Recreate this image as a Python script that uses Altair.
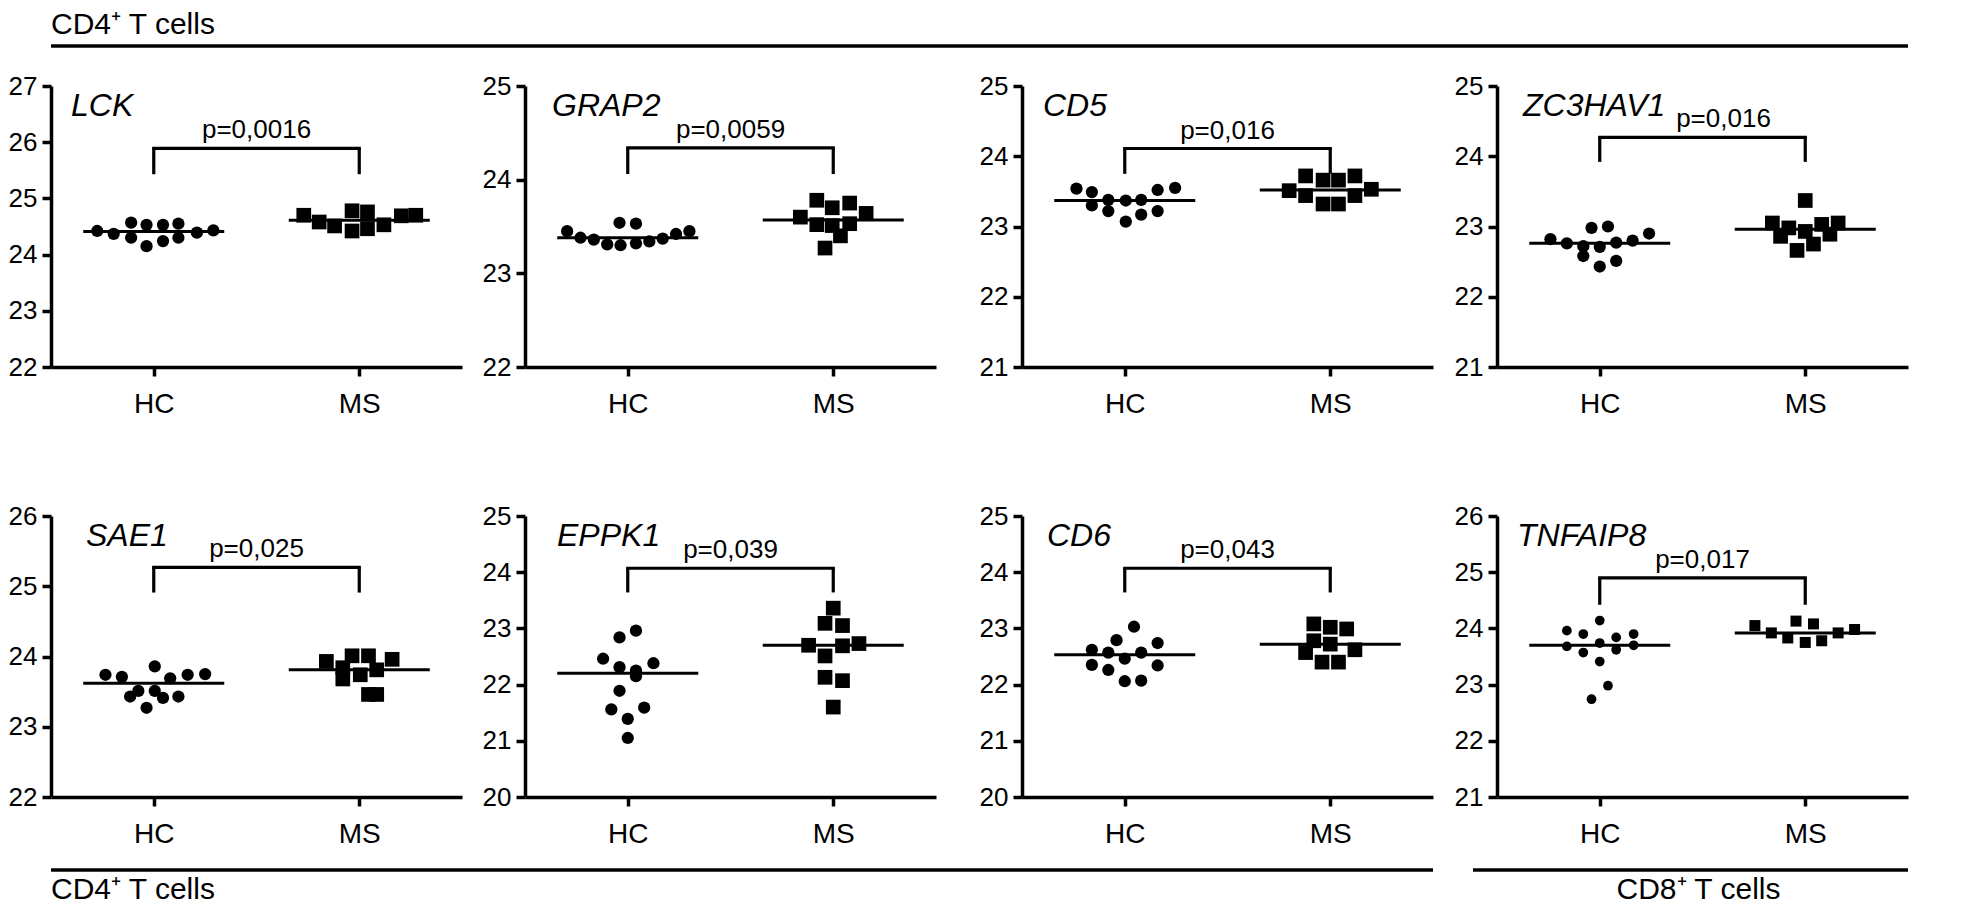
import altair as alt
import pandas as pd

FONT = "Liberation Sans"

GROUPS = ["HC", "MS"]
GROUP_POS = [1, 3]
GENES = ["LCK", "GRAP2", "CD5", "ZC3HAV1", "SAE1", "EPPK1", "CD6", "TNFAIP8"]
P_LABELS = ["p=0,0016", "p=0,0059", "p=0,016", "p=0,016",
            "p=0,025", "p=0,039", "p=0,043", "p=0,017"]
SECTION_LABELS = ["CD4\u207a T cells", "CD4\u207a T cells", "CD8\u207a T cells"]
Y_MIN = [22, 22, 21, 21, 22, 20, 20, 21]
Y_MAX = [27, 25, 25, 25, 26, 25, 25, 26]
HC_MEAN = [24.41, 23.38, 23.37, 22.76, 23.62, 22.20, 22.53, 23.70]
MS_MEAN = [24.61, 23.57, 23.52, 22.96, 23.81, 22.70, 22.72, 23.92]
BRACKET_TOP = [25.89, 24.34, 24.11, 24.27, 25.27, 24.07, 24.07, 24.90]
BRACKET_LEG = [25.43, 24.06, 23.75, 23.92, 24.91, 23.64, 23.64, 24.42]

# horizontal scatter (in x-scale units around the group) and values
LCK_HC_DX = [-0.55, -0.39, -0.22, -0.22, -0.07, -0.07, 0.09, 0.09, 0.24, 0.24, 0.42, 0.58]
LCK_HC_Y = [24.42, 24.37, 24.57, 24.30, 24.53, 24.15, 24.53, 24.24, 24.55, 24.30, 24.39, 24.43]
LCK_MS_DX = [-0.54, -0.39, -0.24, -0.07, -0.07, 0.08, 0.08, 0.24, 0.41, 0.55]
LCK_MS_Y = [24.70, 24.58, 24.51, 24.78, 24.42, 24.76, 24.46, 24.53, 24.69, 24.70]

GRAP2_HC_DX = [-0.59, -0.46, -0.33, -0.20, -0.08, -0.07, 0.08, 0.08, 0.21, 0.34, 0.47, 0.60]
GRAP2_HC_Y = [23.45, 23.38, 23.36, 23.31, 23.54, 23.30, 23.53, 23.32, 23.34, 23.37, 23.42, 23.45]
GRAP2_MS_DX = [-0.32, -0.16, -0.16, -0.01, -0.01, 0.07, 0.16, 0.16, -0.08, 0.32]
GRAP2_MS_Y = [23.60, 23.78, 23.52, 23.70, 23.51, 23.40, 23.75, 23.53, 23.27, 23.64]

CD5_HC_DX = [-0.47, -0.32, -0.32, -0.16, -0.16, 0.01, 0.01, 0.16, 0.16, 0.32, 0.32, 0.49]
CD5_HC_Y = [23.54, 23.49, 23.30, 23.38, 23.22, 23.37, 23.07, 23.38, 23.17, 23.52, 23.22, 23.55]
CD5_MS_DX = [-0.40, -0.24, -0.24, -0.07, -0.07, 0.08, 0.08, 0.24, 0.24, 0.40]
CD5_MS_Y = [23.51, 23.72, 23.44, 23.66, 23.32, 23.66, 23.32, 23.72, 23.44, 23.53]

ZC3HAV1_HC_DX = [-0.48, -0.32, -0.16, -0.16, -0.08, 0.0, 0.0, 0.08, 0.16, 0.16, 0.32, 0.48]
ZC3HAV1_HC_Y = [22.82, 22.76, 22.72, 22.58, 22.98, 22.71, 22.43, 23.00, 22.77, 22.51, 22.80, 22.90]
ZC3HAV1_MS_DX = [-0.32, -0.24, -0.16, -0.08, 0.0, 0.0, 0.08, 0.16, 0.24, 0.32]
ZC3HAV1_MS_Y = [23.05, 22.86, 22.98, 22.66, 23.37, 22.93, 22.75, 23.03, 22.89, 23.05]

SAE1_HC_DX = [-0.47, -0.31, 0.01, 0.16, 0.33, 0.50, -0.23, -0.15, -0.07, 0.01, 0.09, 0.24]
SAE1_HC_Y = [23.74, 23.71, 23.86, 23.69, 23.74, 23.75, 23.43, 23.51, 23.27, 23.51, 23.41, 23.43]
SAE1_MS_DX = [-0.32, -0.16, -0.16, -0.07, 0.01, 0.09, 0.09, 0.17, 0.17, 0.32]
SAE1_MS_Y = [23.93, 23.84, 23.68, 24.01, 23.74, 24.01, 23.46, 23.81, 23.46, 23.96]

EPPK1_HC_DX = [-0.24, -0.08, 0.08, -0.08, 0.08, 0.08, 0.25, -0.08, -0.16, 0.16, 0.0, 0.0]
EPPK1_HC_Y = [22.46, 22.84, 22.96, 22.31, 22.25, 22.15, 22.38, 21.89, 21.56, 21.59, 21.39, 21.05]
EPPK1_MS_DX = [0.0, -0.08, 0.09, -0.24, 0.09, 0.25, -0.08, -0.08, 0.09, 0.0]
EPPK1_MS_Y = [23.36, 23.09, 23.05, 22.70, 22.69, 22.73, 22.51, 22.13, 22.07, 21.60]

CD6_HC_DX = [-0.32, -0.32, -0.16, -0.16, -0.08, 0.0, 0.0, 0.09, 0.16, 0.16, 0.32, 0.32]
CD6_HC_Y = [22.62, 22.35, 22.57, 22.26, 22.79, 22.46, 22.06, 23.03, 22.57, 22.07, 22.74, 22.34]
CD6_MS_DX = [-0.24, -0.16, -0.16, -0.08, 0.0, 0.0, 0.08, 0.16, 0.24]
CD6_MS_Y = [22.57, 23.08, 22.78, 22.40, 23.02, 22.72, 22.40, 22.99, 22.62]

TNFAIP8_HC_DX = [-0.32, -0.32, -0.16, -0.16, 0.0, 0.0, 0.0, 0.16, 0.16, 0.33, 0.33, 0.08, -0.08]
TNFAIP8_HC_Y = [23.96, 23.68, 23.90, 23.57, 24.14, 23.74, 23.41, 23.84, 23.62, 23.90, 23.70, 22.98, 22.74]
TNFAIP8_MS_DX = [-0.49, -0.33, -0.17, -0.09, 0.0, 0.08, 0.16, 0.32, 0.48]
TNFAIP8_MS_Y = [24.05, 23.92, 23.83, 24.13, 23.75, 24.08, 23.78, 23.92, 23.98]

PANEL_DATA = [
    (LCK_HC_DX, LCK_HC_Y, LCK_MS_DX, LCK_MS_Y),
    (GRAP2_HC_DX, GRAP2_HC_Y, GRAP2_MS_DX, GRAP2_MS_Y),
    (CD5_HC_DX, CD5_HC_Y, CD5_MS_DX, CD5_MS_Y),
    (ZC3HAV1_HC_DX, ZC3HAV1_HC_Y, ZC3HAV1_MS_DX, ZC3HAV1_MS_Y),
    (SAE1_HC_DX, SAE1_HC_Y, SAE1_MS_DX, SAE1_MS_Y),
    (EPPK1_HC_DX, EPPK1_HC_Y, EPPK1_MS_DX, EPPK1_MS_Y),
    (CD6_HC_DX, CD6_HC_Y, CD6_MS_DX, CD6_MS_Y),
    (TNFAIP8_HC_DX, TNFAIP8_HC_Y, TNFAIP8_MS_DX, TNFAIP8_MS_Y),
]

# ---- layout / style ----
COL_W = [414, 437, 415, 411]
RANGE_W = [411, 411, 411, 411]
COL_SP = 60
H = 281
GENE_DX = [20, 27, 21, 26, 35, 32, 25, 20]
P_DX = [0, 0, 0, 21, 0, 0, 0, 0]
MARK_SIZES = [(150, 216)] * 7 + [(95, 121)]
LW = 3.2
TOTAL_W = sum(COL_W) + 3 * COL_SP
COL_X = [sum(COL_W[:k]) + k * COL_SP for k in range(4)]

label_expr = "datum.value == %d ? '%s' : '%s'" % (GROUP_POS[0], GROUPS[0], GROUPS[1])


def panel(i):
    col = i % 4
    hc_dx, hc_y, ms_dx, ms_y = PANEL_DATA[i]
    xs = alt.Scale(domain=[0, 4], range=[0, RANGE_W[col]], nice=False, zero=False)
    ys = alt.Scale(domain=[Y_MIN[i], Y_MAX[i]], nice=False, zero=False)
    xax = alt.Axis(values=GROUP_POS, labelExpr=label_expr, title=None, grid=False,
                   labelFlush=False)
    yax = alt.Axis(values=list(range(Y_MIN[i], Y_MAX[i] + 1)), title=None, grid=False,
                   labelFlush=False, format="d")

    hc = pd.DataFrame({"x": [GROUP_POS[0] + d for d in hc_dx], "y": hc_y})
    ms = pd.DataFrame({"x": [GROUP_POS[1] + d for d in ms_dx], "y": ms_y})
    means = pd.DataFrame({"x": GROUP_POS, "y": [HC_MEAN[i], MS_MEAN[i]]})
    br = pd.DataFrame({"x": [GROUP_POS[0]], "x2": [GROUP_POS[1]], "y": [BRACKET_TOP[i]]})
    legs = pd.DataFrame({"x": GROUP_POS, "y": [BRACKET_TOP[i]] * 2,
                         "y2": [BRACKET_LEG[i]] * 2})
    ptxt = pd.DataFrame({"x": [sum(GROUP_POS) / 2], "y": [BRACKET_TOP[i]],
                         "t": [P_LABELS[i]]})
    gene = pd.DataFrame({"t": [GENES[i]]})

    X = lambda f: alt.X(f, type="quantitative", scale=xs, axis=xax)
    Y = lambda f: alt.Y(f, type="quantitative", scale=ys, axis=yax)

    pts_hc = alt.Chart(hc).mark_point(shape="circle", filled=True, color="black",
                                      opacity=1, strokeWidth=0,
                                      size=MARK_SIZES[i][0]).encode(x=X("x"), y=Y("y"))
    pts_ms = alt.Chart(ms).mark_point(shape="square", filled=True, color="black",
                                      opacity=1, strokeWidth=0,
                                      size=MARK_SIZES[i][1]).encode(x=X("x"), y=Y("y"))
    mean_ticks = alt.Chart(means).mark_tick(orient="horizontal", size=141,
                                            thickness=3, color="black",
                                            opacity=1).encode(x=X("x"), y=Y("y"))
    br_h = alt.Chart(br).mark_rule(color="black", strokeWidth=LW,
                                   strokeCap="square").encode(
        x=X("x"), x2="x2:Q", y=Y("y"))
    br_v = alt.Chart(legs).mark_rule(color="black", strokeWidth=LW).encode(
        x=X("x"), y=Y("y"), y2="y2:Q")
    p_t = alt.Chart(ptxt).mark_text(font=FONT, fontSize=26, color="black",
                                    align="center", baseline="alphabetic",
                                    dy=-10, dx=P_DX[i]).encode(
        x=X("x"), y=Y("y"), text="t:N")
    g_t = alt.Chart(gene).mark_text(font=FONT, fontSize=32, fontStyle="italic",
                                    color="black", align="left",
                                    baseline="alphabetic").encode(
        x=alt.value(GENE_DX[i]), y=alt.value(30), text="t:N")

    layers = [pts_hc, pts_ms, mean_ticks, br_h, br_v, p_t, g_t]

    if i == 0:
        hdr = pd.DataFrame({"t": [SECTION_LABELS[0]]})
        layers.append(alt.Chart(hdr).mark_rule(color="black", strokeWidth=3.5).encode(
            x=alt.value(0), x2=alt.value(TOTAL_W), y=alt.value(-40)))
        layers.append(alt.Chart(hdr).mark_text(font=FONT, fontSize=30, color="black",
                                               align="left", baseline="alphabetic").encode(
            x=alt.value(0), y=alt.value(-52), text="t:N"))
    if i == 4:
        f1 = pd.DataFrame({"t": [SECTION_LABELS[1]]})
        f2 = pd.DataFrame({"t": [SECTION_LABELS[2]]})
        line1_end = COL_X[2] + RANGE_W[2]
        line2_start = COL_X[3] - 24
        cd8_center = COL_X[3] + RANGE_W[3] / 2 - 4
        layers.append(alt.Chart(f1).mark_rule(color="black", strokeWidth=3.5).encode(
            x=alt.value(0), x2=alt.value(line1_end), y=alt.value(354)))
        layers.append(alt.Chart(f2).mark_rule(color="black", strokeWidth=3.5).encode(
            x=alt.value(line2_start), x2=alt.value(TOTAL_W), y=alt.value(354)))
        layers.append(alt.Chart(f1).mark_text(font=FONT, fontSize=30, color="black",
                                              align="left", baseline="alphabetic").encode(
            x=alt.value(0), y=alt.value(383), text="t:N"))
        layers.append(alt.Chart(f2).mark_text(font=FONT, fontSize=30, color="black",
                                              align="center", baseline="alphabetic").encode(
            x=alt.value(cd8_center), y=alt.value(383), text="t:N"))

    return alt.layer(*layers).properties(width=COL_W[col], height=H)


panels = [panel(i) for i in range(8)]

chart = alt.concat(
    *panels, columns=4,
    spacing=alt.RowColnumber(row=149, column=COL_SP),
    bounds="flush", align="each",
).properties(
    padding={"left": 0, "top": 2, "right": 42, "bottom": 0}
).configure_view(stroke=None).configure_axis(
    domainColor="black", domainWidth=3.5, tickColor="black", tickWidth=3.5,
    tickSize=9, labelColor="black", labelFont=FONT, grid=False,
).configure_axisX(labelFontSize=28, labelPadding=14).configure_axisY(
    labelFontSize=26, labelPadding=5)

chart.save("out.html", embed_options={"renderer": "svg", "actions": False})
